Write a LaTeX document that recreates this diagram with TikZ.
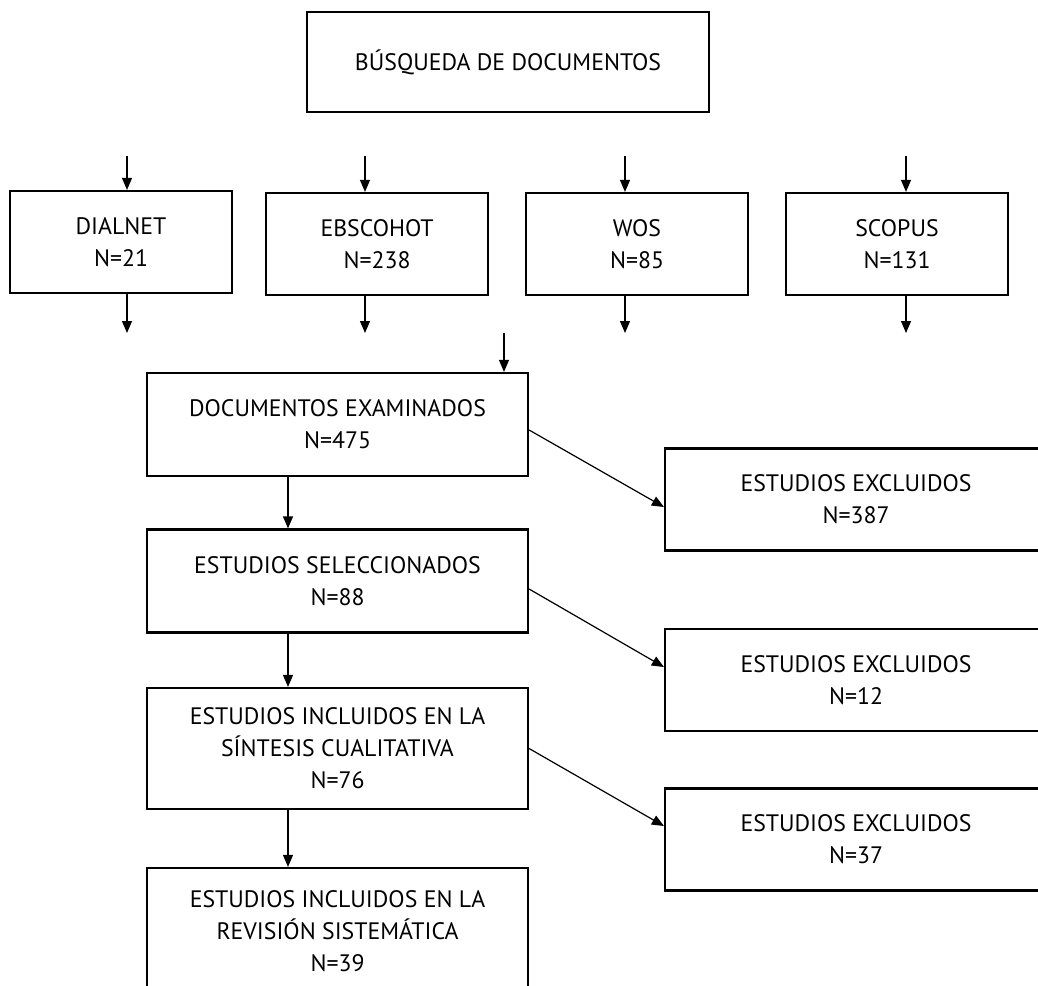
\documentclass[tikz,border=0pt]{standalone}
\usepackage{fontspec}
\setmainfont{PT Sans}
\usetikzlibrary{arrows.meta, positioning}

\begin{document}
\begin{tikzpicture}[x=0.5pt, y=-0.5pt,
  every node/.style={font=\fontsize{11.9}{16}\selectfont},
  caja/.style={draw, line width=1.1pt, align=center, inner sep=0pt},
  fuente/.style={caja, minimum width=111pt, minimum height=51pt},
  paso/.style={caja, minimum width=190.5pt, minimum height=51.5pt},
  excluido/.style={caja, minimum width=191pt, minimum height=51pt},
  flecha/.style={-{Triangle[width=5pt,length=6pt]}, line width=0.6pt}]
\clip (0,0) rectangle (1038,985);
% Busqueda
\node[caja, minimum width=201pt, minimum height=50pt] (busqueda) at (508,62) {BÚSQUEDA DE DOCUMENTOS};
% Bases de datos
\node[fuente] (dialnet) at (121,242) {DIALNET\\N=21};
\node[fuente] (ebscohot) at (377,244) {EBSCOHOT\\N=238};
\node[fuente] (wos) at (637,244) {WOS\\N=85};
\node[fuente] (scopus) at (897,244) {SCOPUS\\N=131};
\foreach \n/\x in {dialnet/127, ebscohot/365, wos/625, scopus/906} {
  \coordinate (\n-in) at (\x,156);
  \coordinate (\n-out) at (\x,333);
  \draw[flecha] (\n-in) -- (\n-in |- \n.north);
  \draw[flecha] (\n-in |- \n.south) -- (\n-out);
}
% Cribado
\node[paso] (examinados) at (337.5,424.5) {DOCUMENTOS EXAMINADOS\\N=475};
\node[paso] (seleccionados) at (337.5,581) {ESTUDIOS SELECCIONADOS\\N=88};
\node[paso, minimum height=60.5pt] (sintesis) at (337.5,748.5) {ESTUDIOS INCLUIDOS EN LA\\SÍNTESIS CUALITATIVA\\N=76};
\node[paso, minimum height=63pt] (revision) at (337.5,931) {ESTUDIOS INCLUIDOS EN LA\\REVISIÓN SISTEMÁTICA\\N=39};
\coordinate (entrada) at (504,333);
\draw[flecha] (entrada) -- (entrada |- examinados.north);
\draw[flecha] ([xshift=-24.75pt]examinados.south) -- ([xshift=-24.75pt]seleccionados.north);
\draw[flecha] ([xshift=-24.75pt]seleccionados.south) -- ([xshift=-24.75pt]sintesis.north);
\draw[flecha] ([xshift=-24.75pt]sintesis.south) -- ([xshift=-24.75pt]revision.north);
% Excluidos
\node[excluido] (excluidos1) at (856,499.5) {ESTUDIOS EXCLUIDOS\\N=387};
\node[excluido] (excluidos2) at (856,680) {ESTUDIOS EXCLUIDOS\\N=12};
\node[excluido] (excluidos3) at (856,839.5) {ESTUDIOS EXCLUIDOS\\N=37};
\draw[flecha] ([yshift=-2.75pt]examinados.east) -- ([yshift=-3.75pt]excluidos1.west);
\draw[flecha] ([yshift=-4pt]seleccionados.east) -- ([yshift=6.5pt]excluidos2.west);
\draw[flecha] (sintesis.east) -- ([yshift=6.75pt]excluidos3.west);
\end{tikzpicture}
\end{document}
